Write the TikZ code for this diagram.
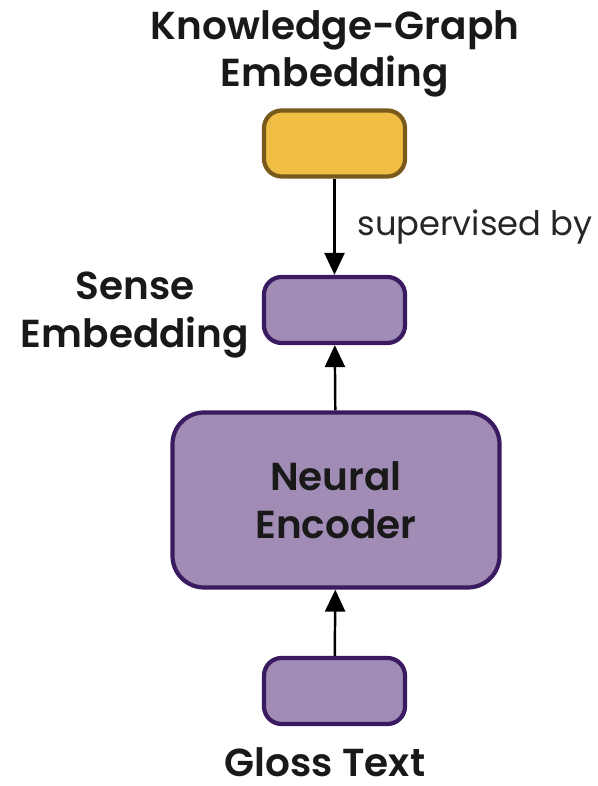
\documentclass[tikz,border=0pt]{standalone}
\usepackage{fontspec}
\setmainfont{Poppins}[BoldFont={Poppins SemiBold}]
\usetikzlibrary{arrows.meta,positioning}
\definecolor{gold}{HTML}{F0BE44}
\definecolor{goldedge}{HTML}{7A5A1C}
\definecolor{lilac}{HTML}{A08CB5}
\definecolor{plum}{HTML}{3A1B62}
\tikzset{
  label/.style={font=\bfseries\fontsize{11.1}{13.6}\selectfont,align=center,text=black!90},
  note/.style={font=\fontsize{9.6}{11}\selectfont,text=black!85},
  kgbox/.style={rounded corners=5pt,draw=goldedge,fill=gold,line width=1.2pt,minimum width=1.41cm,minimum height=0.66cm},
  embbox/.style={rounded corners=5pt,draw=plum,fill=lilac,line width=1.2pt,minimum width=1.41cm,minimum height=0.66cm},
  encbox/.style={rounded corners=9pt,draw=plum,fill=lilac,line width=1.2pt,minimum width=3.27cm,minimum height=1.75cm},
  arr/.style={-{Triangle[length=2.2mm,width=2mm]},draw=black,line width=0.7pt}
}
\begin{document}
\begin{tikzpicture}[x=1cm,y=1cm]
\path[use as bounding box,fill=white] (0,0) rectangle (5.97,7.86);
% boxes
\node[kgbox] (kg) at (3.345,6.425) {};
\node[embbox] (sense) at (3.345,4.76) {};
\node[encbox,label] (enc) at (3.36,2.86) {Neural\\Encoder};
\node[embbox] (gloss) at (3.345,0.95) {};
% labels
\node[label] (kgtxt) at (3.35,7.32) {Knowledge-Graph\\Embedding};
\node[label] (sensetxt) at (1.35,4.71) {Sense\\Embedding};
\node[label,inner sep=1pt] (glosstxt) at (3.25,0.24) {Gloss Text};
% connectors
\draw[arr] (kg) -- node[note,right=0.1cm] {supervised by} (sense);
\draw[arr] (enc) -- (sense);
\draw[arr] (gloss) -- (enc);
\end{tikzpicture}
\end{document}
